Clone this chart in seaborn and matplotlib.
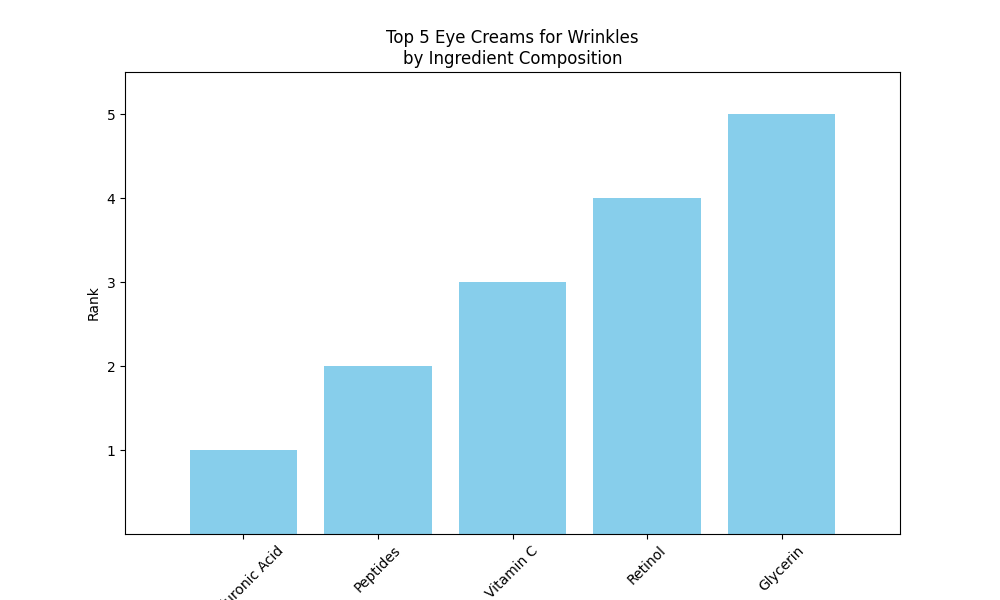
import matplotlib
matplotlib.use("Agg")
import matplotlib.pyplot as plt
import seaborn as sns
import pandas as pd

ingredients = ["Hyaluronic Acid", "Peptides", "Vitamin C", "Retinol", "Glycerin"]
ranks = [1, 2, 3, 4, 5]

df = pd.DataFrame({"Ingredient": ingredients, "Rank": ranks})

fig, ax = plt.subplots(figsize=(10, 6), dpi=100)
sns.barplot(data=df, x="Ingredient", y="Rank", color="skyblue", saturation=1,
            width=0.8, ax=ax)
ax.set_title("Top 5 Eye Creams for Wrinkles\nby Ingredient Composition")
ax.set_xlabel("")
ax.set_ylabel("Rank")
ax.set_xlim(-0.88, 4.88)
ax.set_ylim(0, 5.5)
ax.set_yticks([1, 2, 3, 4, 5])
plt.setp(ax.get_xticklabels(), rotation=45)
fig.savefig("out.png")
